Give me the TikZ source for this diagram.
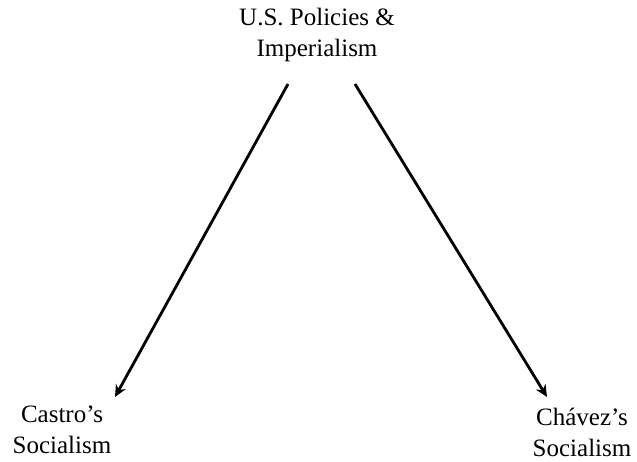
\documentclass[tikz,border=0pt]{standalone}
\usepackage{fontspec}
\setmainfont{Liberation Serif}
\usetikzlibrary{positioning,calc,arrows.meta}
\begin{document}
\begin{tikzpicture}[x=1pt,y=-1pt,
	lbl/.style={align=center,font=\fontsize{25}{31}\selectfont,inner sep=0pt},
	arr/.style={line width=2.8pt,-{Stealth[length=12pt,width=11pt]}}]
		\useasboundingbox (0,0) rectangle (637,462);
		
		\node[lbl] (usp) at (317,35) {U.S. Policies \&\\Imperialism};
		\node[lbl] (castro) at (62,430) {Castro’s\\Socialism};
		\node[lbl] (chavez) at (582,432) {Chávez’s\\Socialism};
		
		\draw[arr] ($(usp)+(-29,49)$) -- ($(castro)+(53,-33)$);
		\draw[arr] ($(usp)+(38,49)$) -- ($(chavez)+(-35,-35)$);
	\end{tikzpicture}
\end{document}
